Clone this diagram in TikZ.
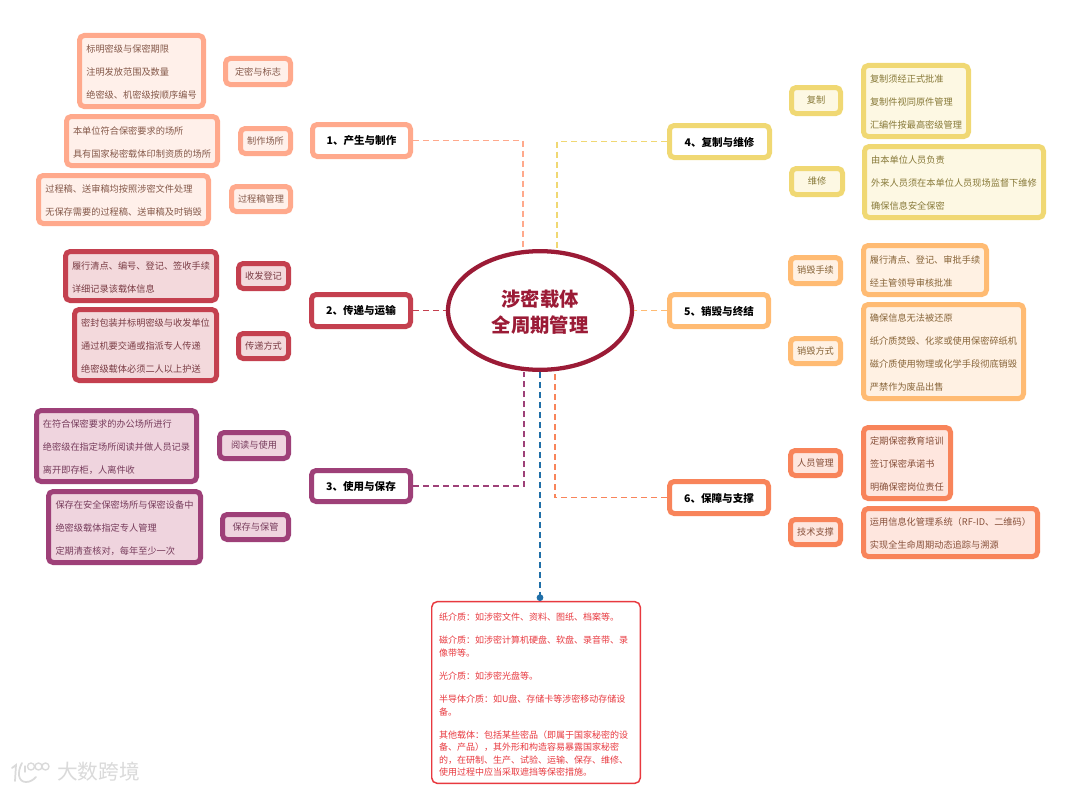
\documentclass[tikz,border=0pt]{standalone}
\usepackage{fontspec}
\setmainfont{Noto Sans CJK SC}
\usetikzlibrary{shapes.geometric,arrows.meta}
\definecolor{bA}{HTML}{FFA98C}\definecolor{fA}{HTML}{FFF0EA}\definecolor{tA}{HTML}{85594A}
\definecolor{bB}{HTML}{C4404F}\definecolor{fB}{HTML}{F3D9DC}\definecolor{tB}{HTML}{7A3C44}
\definecolor{bC}{HTML}{9E4078}\definecolor{fC}{HTML}{EFD4DE}\definecolor{tC}{HTML}{773C5C}
\definecolor{bD}{HTML}{F0D873}\definecolor{fD}{HTML}{FDF8E3}\definecolor{tD}{HTML}{877938}
\definecolor{bE}{HTML}{FFBB73}\definecolor{fE}{HTML}{FFF1E3}\definecolor{tE}{HTML}{876438}
\definecolor{bF}{HTML}{F8845A}\definecolor{fF}{HTML}{FEE6DE}\definecolor{tF}{HTML}{87503A}
\definecolor{rootc}{HTML}{9B1B36}\definecolor{notec}{HTML}{E8393F}\definecolor{bluec}{HTML}{1F6FA8}
\definecolor{wm}{HTML}{DADADA}
\tikzset{
  panel/.style={draw,rounded corners=3.5pt,line width=3.75pt,inner sep=0pt,align=left,
    font=\fontsize{6.9}{17.25}\selectfont},
  fillA/.style={panel,draw=bA,fill=fA,text=tA},
  fillB/.style={panel,draw=bB,fill=fB,text=tB},
  fillC/.style={panel,draw=bC,fill=fC,text=tC},
  fillD/.style={panel,draw=bD,fill=fD,text=tD},
  fillE/.style={panel,draw=bE,fill=fE,text=tE},
  fillF/.style={panel,draw=bF,fill=fF,text=tF},
  topic/.style={fill=white,text=black,font=\fontsize{7.9}{10}\selectfont\bfseries},
  link/.style={line width=0.9pt,dash pattern=on 4.5pt off 3pt},
  rootnode/.style={ellipse,draw=rootc,line width=3.2pt,fill=white,text=rootc,align=center,inner sep=0pt,
    font=\fontsize{14.5}{19.6}\selectfont\bfseries},
  notebox/.style={draw=notec,line width=1.1pt,rounded corners=4pt,fill=white,text=notec,inner sep=0pt,align=left,
    text width=145.5pt,font=\fontsize{6.75}{9.4}\selectfont},
  wmstroke/.style={draw=wm,line width=1.3pt,line cap=round}
}
\newcommand\bx[7]{%
  \pgfmathsetmacro\mycx{(#2+#4)/2}\pgfmathsetmacro\mycy{(#3+#5)/2}%
  \pgfmathsetmacro\myw{(#4-#2-5)*0.75}\pgfmathsetmacro\myh{(#5-#3-5)*0.75}%
  \node[#6,minimum width=\myw pt,minimum height=\myh pt] (#1) at (\mycx,\mycy) {#7};}
\newcommand\lowr{\rule{0pt}{7.6pt}}
\begin{document}
\begin{tikzpicture}[x=0.75pt,y=-0.75pt]
\useasboundingbox[fill=white] (0,0) rectangle (1080,792);
% centre
\node[rootnode,minimum width=138pt,minimum height=89pt] (root) at (540,310.5) {\rule{0pt}{15pt}涉密载体\\全周期管理};
% group 1
\bx{t1}{310}{122}{413}{159}{fillA,topic}{\lowr 1、产生与制作}
\bx{s11}{223}{56}{293}{87}{fillA}{定密与标志}
\bx{l11}{77}{33}{206}{109}{fillA}{\lowr 标明密级与保密期限\\注明发放范围及数量\\绝密级、机密级按顺序编号}
\bx{s12}{238}{126}{293}{156}{fillA}{制作场所}
\bx{l12}{64}{114}{220}{168}{fillA}{\lowr 本单位符合保密要求的场所\\具有国家秘密载体印制资质的场所}
\bx{s13}{229}{184}{293}{214}{fillA}{过程稿管理}
\bx{l13}{36}{173}{211}{226}{fillA}{\lowr 过程稿、送审稿均按照涉密文件处理\\无保存需要的过程稿、送审稿及时销毁}
% group 2
\bx{t2}{309}{292}{413}{329}{fillB,topic}{\lowr 2、传递与运输}
\bx{s21}{236}{261}{291}{291}{fillB}{收发登记}
\bx{l21}{63}{249}{219}{303}{fillB}{\lowr 履行清点、编号、登记、签收手续\\详细记录该载体信息}
\bx{s22}{236}{331}{291}{361}{fillB}{传递方式}
\bx{l22}{72}{307}{219}{383}{fillB}{\lowr 密封包装并标明密级与收发单位\\通过机要交通或指派专人传递\\绝密级载体必须二人以上护送}
% group 3
\bx{t3}{309}{468}{413}{504}{fillC,topic}{\lowr 3、使用与保存}
\bx{s31}{217}{430}{291}{461}{fillC}{阅读与使用}
\bx{l31}{34}{408}{199}{484}{fillC}{\lowr 在符合保密要求的办公场所进行\\绝密级在指定场所阅读并做人员记录\\离开即存柜，人离件收}
\bx{s32}{220}{512}{291}{542}{fillC}{保存与保管}
\bx{l32}{46}{489}{203}{565}{fillC}{\lowr 保存在安全保密场所与保密设备中\\绝密级载体指定专人管理\\定期清查核对，每年至少一次}
% group 4
\bx{t4}{667}{123}{772}{160}{fillD,topic}{\lowr 4、复制与维修}
\bx{s41}{789}{85}{843}{116}{fillD}{复制}
\bx{l41}{861}{63}{971}{139}{fillD}{\lowr 复制须经正式批准\\复制件视同原件管理\\汇编件按最高密级管理}
\bx{s42}{789}{166}{845}{197}{fillD}{维修}
\bx{l42}{862}{144}{1046}{220}{fillD}{\lowr 由本单位人员负责\\外来人员须在本单位人员现场监督下维修\\确保信息安全保密}
% group 5
\bx{t5}{667}{292}{771}{329}{fillE,topic}{\lowr 5、销毁与终结}
\bx{s51}{788}{255}{843}{286}{fillE}{销毁手续}
\bx{l51}{861}{243}{989}{297}{fillE}{\lowr 履行清点、登记、审批手续\\经主管领导审核批准}
\bx{s52}{788}{336}{843}{366}{fillE}{销毁方式}
\bx{l52}{861}{302}{1026}{401}{fillE}{\lowr 确保信息无法被还原\\纸介质焚毁、化浆或使用保密碎纸机\\磁介质使用物理或化学手段彻底销毁\\严禁作为废品出售}
% group 6
\bx{t6}{667}{479}{771}{516}{fillF,topic}{\lowr 6、保障与支撑}
\bx{s61}{788}{448}{843}{478}{fillF}{人员管理}
\bx{l61}{861}{425}{953}{501}{fillF}{\lowr 定期保密教育培训\\签订保密承诺书\\明确保密岗位责任}
\bx{s62}{788}{517}{843}{547}{fillF}{技术支撑}
\bx{l62}{861}{506}{1040}{559}{fillF}{\lowr 运用信息化管理系统（RF-ID、二维码）\\实现全生命周期动态追踪与溯源}
% note
\node[notebox,minimum width=156.4pt,minimum height=136.2pt] (note) at (536,692.5) {\rule{0pt}{9pt}纸介质：如涉密文件、资料、图纸、档案等。\\[8pt]磁介质：如涉密计算机硬盘、软盘、录音带、录\\像带等。\\[8pt]光介质：如涉密光盘等。\\[8pt]半导体介质：如U盘、存储卡等涉密移动存储设\\备。\\[8pt]其他载体：包括某些密品（即属于国家秘密的设\\备、产品），其外形和构造容易暴露国家秘密\\的，在研制、生产、试验、运输、保存、维修、\\使用过程中应当采取遮挡等保密措施。};
% connectors
\coordinate (c1) at (523,249);
\coordinate (c4) at (557,249);
\coordinate (c3) at (524,372);
\coordinate (c6) at (555,372);
\draw[link,bA] (t1.east) -| (c1);
\draw[link,bD] (t4.west) -| (c4);
\draw[link,bB] (t2.east) -- (root.west);
\draw[link,bE] (t5.west) -- (root.east);
\draw[link,bC] (t3.east) -| (c3);
\draw[link,bF] (t6.west) -| (c6);
\draw[link,bluec,-{Circle[length=5pt]}] (root.south) -- (root.south |- note.north);
% watermark
\node[text=wm,inner sep=0pt,font=\fontsize{15.5}{16}\selectfont] (wmtext) at (98.5,772) {大数跨境};
\draw[wmstroke] (12,768) -- (16,765) -- (15,781);
\draw[wmstroke] (22,763) .. controls (17,772) and (18,782) .. (26,782) .. controls (30,782) and (33,780) .. (36,777);
\draw[wmstroke,line width=1pt] (25,766) -- (25,772);
\draw[wmstroke,line width=1pt] (31,766.5) circle (3.5) (38.5,766.5) circle (3.5) (45.5,766.5) circle (3.5);
\end{tikzpicture}
\end{document}
